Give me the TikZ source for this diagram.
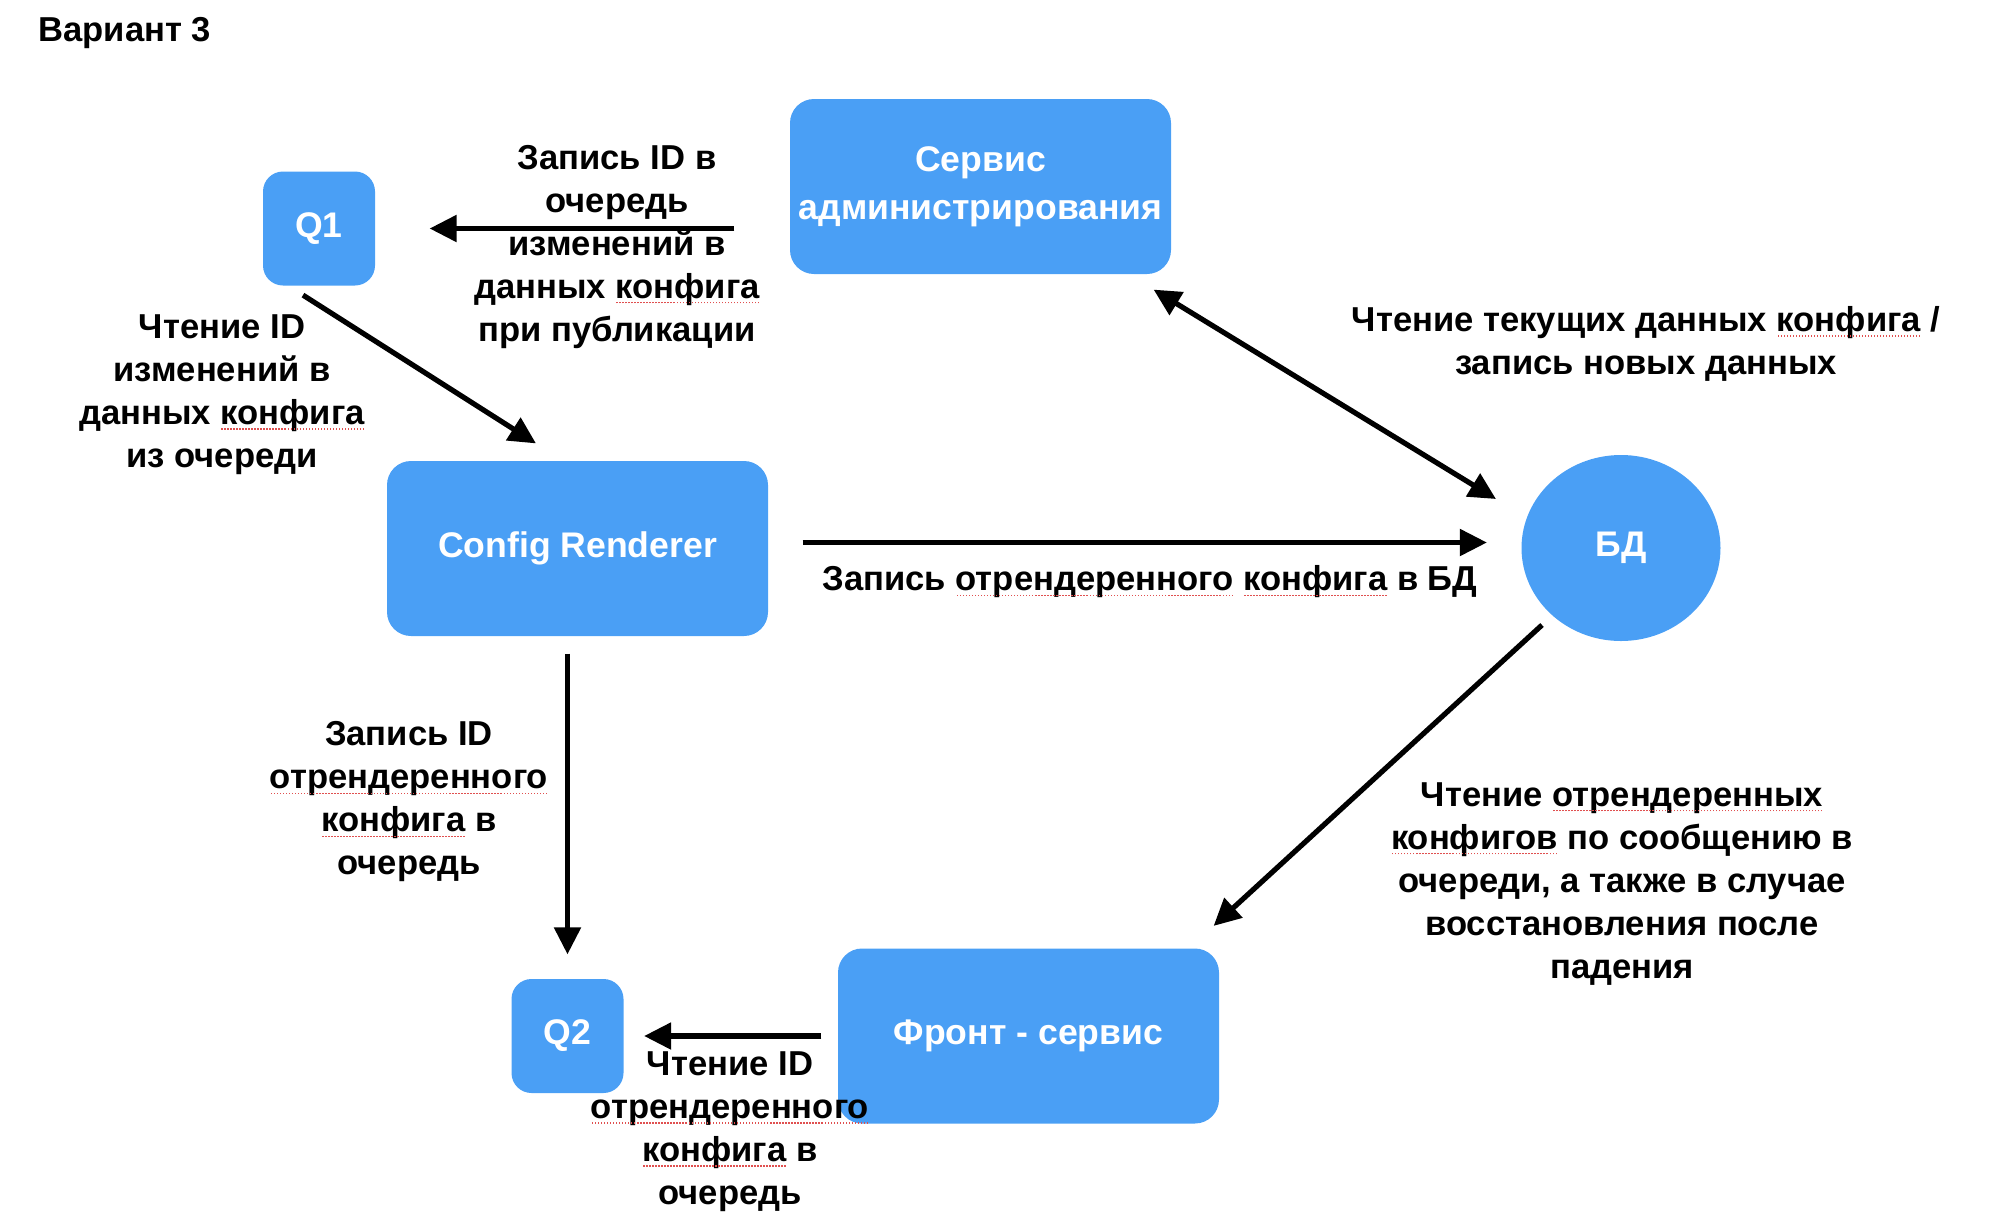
\documentclass[tikz,border=0pt]{standalone}
\usepackage{fontspec}
\setmainfont{Liberation Sans}
\usetikzlibrary{arrows.meta,positioning}
\usetikzlibrary{shapes}
\definecolor{boxblue}{HTML}{4A9FF5}
\definecolor{spellred}{HTML}{E05050}
% red dotted spell-check underline
\newlength\spellwd
\newcommand{\spell}[1]{\settowidth{\spellwd}{#1}\rlap{#1}\raisebox{-2.5pt}{\hbox to\spellwd{\color{spellred}\xleaders\hbox to 1.5pt{\hss\rule{0.7pt}{0.7pt}\hss}\hfill}}}
\tikzset{
        % Services
        node_box/.style={rectangle, rounded corners=12pt, fill=boxblue, text=white, align=center, inner sep=0pt,
            font=\fontsize{17.8pt}{24pt}\selectfont\bfseries, minimum width=190.5pt, minimum height=87.5pt},
        % Queues
        node_queue/.style={node_box, rounded corners=10pt, minimum width=56pt, minimum height=57pt},
        % Database
        node_db/.style={ellipse, fill=boxblue, text=white, inner sep=0pt,
            font=\fontsize{17.8pt}{24pt}\selectfont\bfseries, minimum width=99.5pt, minimum height=93pt},
        % Arrow labels
        node_label/.style={align=center, inner sep=0pt, font=\fontsize{17.3pt}{21.5pt}\selectfont\bfseries}
}
\begin{document}
\begin{tikzpicture}[
            x=0.5pt, y=-0.5pt,
            ->, >={Triangle[length=13.5pt,width=13pt]},
            line width=2.6pt
        ]
            \useasboundingbox (0,0) rectangle (2014,1222);
            \node[node_label, anchor=base west] (title) at (36,41) {Вариант 3};

            \node[node_box] (adm) at (980.5,186.5) {Сервис\\администрирования};
            \node[node_queue] (q1) at (319,228.5) {Q1};
            \node[node_box] (cr) at (577.5,548.5) {Config Renderer};
            \node[node_db] (db) at (1621,548) {БД};
            \node[node_queue] (q2) at (567.5,1036) {Q2};
            \node[node_box] (fs) at (1028.5,1036) {Фронт - сервис};

            % Connectors
            \draw[shorten <=26.5pt, shorten >=26pt] (q1.east -| adm.west) -- (q1.east);
            \draw ([shift={(-8pt,-3.5pt)}]q1.south) -- ([shift={(-20.75pt,7.5pt)}]cr.north);
            \draw[shorten <=16pt, shorten >=16pt] ([yshift=3pt]cr.east) -- ([yshift=3pt]cr.east -| db.west);
            \draw[<->] ([shift={(-10pt,-6.5pt)}]adm.south east) -- ([shift={(-62.5pt,24.5pt)}]db.center);
            \draw[shorten <=7.5pt, shorten >=11pt] (cr.south -| q2.north) -- (q2.north);
            \draw[shorten <=7pt, shorten >=9pt] (fs.west) -- (q2.east);
            \draw ([shift={(-39.5pt,-38.5pt)}]db.center) -- ([shift={(-4pt,10pt)}]fs.north east);

            % Labels
            \node[node_label] (lbl_q1_write) at (617,247) {Запись ID в\\очередь\\изменений в\\данных \spell{конфига}\\при публикации};
            \node[node_label] (lbl_q1_read) at (222,395) {Чтение ID\\изменений в\\данных \spell{конфига}\\из очереди};
            \node[node_label] (lbl_adm_db) at (1646,344) {Чтение текущих данных \spell{конфига} /\\запись новых данных};
            \node[node_label] (lbl_cr_db) at (1150,582) {Запись \spell{отрендеренного} \spell{конфига} в БД};
            \node[node_label] (lbl_cr_q2) at (409,802) {Запись ID\\\spell{отрендеренного}\\\spell{конфига} в\\очередь};
            \node[node_label] (lbl_q2_read) at (730,1132) {Чтение ID\\\spell{отрендеренного}\\\spell{конфига} в\\очередь};
            \node[node_label] (lbl_db_fs) at (1622,884) {Чтение \spell{отрендеренных}\\\spell{конфигов} по сообщению в\\очереди, а также в случае\\восстановления после\\падения};
        \end{tikzpicture}
\end{document}
